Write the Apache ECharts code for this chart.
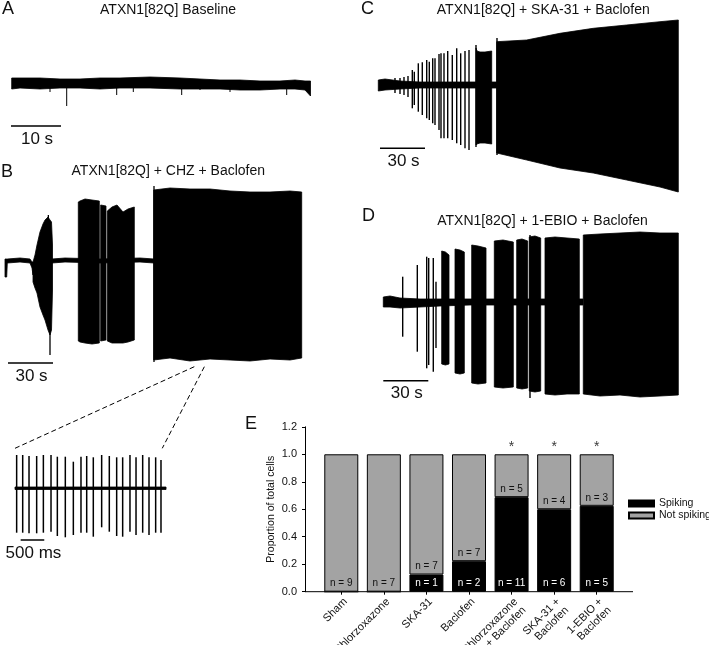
<!DOCTYPE html>
<html><head><meta charset="utf-8">
<script src="https://cdn.jsdelivr.net/npm/echarts@6/dist/echarts.min.js"></script>
<style>html,body{margin:0;padding:0;background:#fff}#c{width:709px;height:645px}</style>
</head><body><div id="c"></div>
<script>
const FONT = 'Liberation Sans, Arial, Helvetica, sans-serif';

// ---------- Trace data (t in s, amplitude in arbitrary units, 0 = baseline) ----------
// Envelopes: [t, top, bottom] points; spikes: [t, top, bottom]
const traceA_band = [[0.14,5,-6],[1.8,5,-5],[5.8,5,-6],[9.8,4,-5],[13.8,4,-5],[17.8,5,-6],[21.8,5,-5],[27.8,6,-5],[33.8,5,-6],[37.8,4,-6],[41.8,3,-6],[45.8,3,-7],[49.8,2,-7],[53.8,2,-6],[56.8,3,-6],[58.8,2,-7],[59.9,2,-13]];
const traceA_spikes = [[7.8,-1,-9],[11.14,-1,-23],[21.14,-1,-12],[24.46,-1,-9],[34.14,-1,-12],[37.8,-1,-7],[43.8,-1,-9],[55.14,-1,-12]];

const traceB_envelopes = [
  [[0,2,-16],[1.13,2,-16],[1.53,2,-2],[10,3,-1],[16.67,2,-2],[18,-1,-7],[18.67,-1,-14]],
  [[18.67,-1,-21],[20,6,-27],[21.33,16,-32],[23.33,29,-46],[25.33,37,-54],[26.67,41,-59],[28.67,44,-69],[30,41,-74],[31,39,-69],[31.67,16,-29]],
  [[31.33,2,-2],[40,3,-1],[63.33,2,-2],[90,3,-1],[99.33,2,-2]],
  [[48.87,59,-80],[50,60,-81],[53.33,62,-82],[58,61,-83],[62.87,60,-82]],
  [[63.8,56,-80],[67.33,55,-79]],
  [[68.2,50,-80],[71.33,54,-82],[74.67,56,-82],[78.67,49,-82],[82,52,-81],[86.2,54,-79]],
  [[99.13,71,-99],[110,73,-97],[123.33,72,-100],[136.67,72,-98],[150,70,-99],[163.33,69,-100],[176.67,69,-98],[190,70,-99],[197.8,69,-97]]
];
const traceB_spikes = [[28.9,46,-60],[30,39,-94],[99.33,75,-101]];

const traceInset_envelopes = [[[0,1,-1.5],[3.2,1,-1.5]]];
const traceInset_spikes = [[0.035,33,-44.7],[0.163,33,-44.7],[0.297,32,-45.3],[0.459,32,-45.3],[0.601,33,-44.7],[0.763,33,-43.7],[0.897,31.3,-48],[1.066,31.3,-49.3],[1.236,26.3,-47],[1.398,31.3,-44.7],[1.519,32,-44.7],[1.659,30.7,-48.7],[1.836,33,-39.3],[1.998,32,-43.7],[2.154,30.7,-48],[2.281,30.7,-48.7],[2.436,33,-43.7],[2.564,30.7,-47],[2.705,33,-44.7],[2.839,30.7,-47],[2.980,30.7,-44.7],[3.093,28,-44.7]];

const traceC_envelopes = [
  [[0.2,5,-6],[4.67,6,-5],[14.67,4,-4],[28,3,-3],[48,3,-3],[65.33,3,-3],[79.33,3,-3]],
  [[65.33,37,-60],[66,34,-59],[68,33,-58],[71.33,33,-58],[75.8,34,-59]],
  [[79.13,43.3,-68],[99.13,45,-75],[121.33,51.7,-83],[143.53,56.7,-88],[165.8,60,-95],[188,63.3,-102],[200.2,65,-107]]
];
const traceC_spikes = [[11.33,7,-8],[14.67,7,-9],[17.33,8,-10],[20,9,-12],[22.87,15,-23.3],[24.2,13.3,-20],[26.87,21.7,-26.7],[29.53,22.7,-30],[32.47,25,-33.3],[34.2,23.3,-35],[36.47,26.7,-38.3],[38,26.7,-40],[40.67,31,-45],[42,31.7,-53.3],[44,31.7,-53.3],[46.47,34,-53.3],[49.53,30,-55],[52.47,36.7,-58.3],[55.13,31.7,-60],[58,34,-63.3],[60.67,35,-65],[65.33,40,-62],[79.33,47,-70]];

const traceD_envelopes = [
  [[0.2,5,-5],[4.67,6,-5],[11.33,4,-6],[24.67,3,-5],[38,3,-4],[58,3,-3],[78,3,-3],[104.67,3,-3],[133.33,3,-3]],
  [[39.13,51,-62],[41.6,50,-63],[44,47,-62]],
  [[48,53,-71],[51.33,52,-72],[54.2,50,-71]],
  [[59.13,57,-81],[63.33,56,-82],[68.67,54,-81]],
  [[74.2,61,-85],[80,62,-86],[86.87,60,-85]],
  [[89.13,62,-86],[92.67,63,-87],[96.47,61,-86]],
  [[97.53,65,-89],[101.33,66,-90],[105.13,64,-89]],
  [[108,64,-92],[114.67,65,-93],[122.67,64,-92],[130.87,63,-92]],
  [[133.53,67,-92],[144.67,68,-94],[158,69,-93],[171.33,70,-95],[184.67,69,-94],[196.87,69,-93]]
];
const traceD_spikes = [[13.13,25.3,-34.7],[22.87,37,-49.7],[29.13,45.3,-66.3],[30.47,44,-63],[33.53,44,-69.7],[35.33,20.3,-46],[98,67,-96]];

// Scale bars [t0, t1, level, label]
const scaleA = [0, 10, -43, '10 s'];
const scaleB = [2, 32, -102, '30 s'];
const scaleInset = [0.12, 0.62, -52, '500 ms'];
const scaleC = [1.33, 31.33, -63.3, '30 s'];
const scaleD = [0.2, 30.2, -78.7, '30 s'];
// Zoomed window of trace B shown in inset: [tStart, tEnd, level] and inset [tStart, tEnd, level]
const zoomFromB = [126.2, 132.9, -105.7];
const zoomToInset = [0, 3.12, 39.7];

// ---------- Bar chart data (panel E) ----------
const categories = ['Sham','Chlorzoxazone','SKA-31','Baclofen','Chlorzoxazone\n+ Baclofen','SKA-31 +\nBaclofen','1-EBIO +\nBaclofen'];
const propSpiking = [0, 0, 0.125, 0.222, 0.688, 0.6, 0.625];
const propNotSpiking = [1, 1, 0.875, 0.778, 0.312, 0.4, 0.375];
const nSpiking = [0, 0, 1, 2, 11, 6, 5];
const nNotSpiking = [9, 7, 7, 7, 5, 4, 3];
const significant = [false, false, false, false, true, true, true];
const yTicks = [0, 1.2, 0.2];

// ---------- Layout ----------
const panels = [
  {L:11, T:70, W:300, H:70, xmax:60, amax:13, amin:-57},
  {L:5, T:180, W:300, H:200, xmax:200, amax:81, amin:-119},
  {L:15, T:440, W:152, H:110, xmax:152/47.2, amax:48, amin:-62},
  {L:378, T:10, W:300, H:190, xmax:200, amax:75, amin:-115},
  {L:383, T:215, W:297, H:190, xmax:198, amax:87, amin:-103}
];

function envelopeSeries(idx, envs) {
  return {
    type:'custom', xAxisIndex:idx, yAxisIndex:idx, silent:true, clip:false,
    data: envs.map(e => [e[0][0], e[e.length-1][0], Math.max(...e.map(p=>p[1])), Math.min(...e.map(p=>p[2]))]),
    encode:{x:[0,1], y:[2,3]},
    renderItem:(params, api) => {
      const env = envs[params.dataIndex];
      const pts = env.map(p => api.coord([p[0], p[1]]))
        .concat(env.slice().reverse().map(p => api.coord([p[0], p[2]])));
      return {type:'polygon', shape:{points:pts}, style:{fill:'#000', stroke:'#000', lineWidth:0.8, lineJoin:'round'}};
    }
  };
}
function spikeSeries(idx, spikes, w) {
  return {
    type:'custom', xAxisIndex:idx, yAxisIndex:idx, silent:true, clip:false,
    data: spikes, encode:{x:0, y:[1,2]},
    renderItem:(params, api) => {
      const a = api.coord([api.value(0), api.value(1)]);
      const b = api.coord([api.value(0), api.value(2)]);
      return {type:'line', shape:{x1:a[0], y1:a[1], x2:b[0], y2:b[1]}, style:{stroke:'#000', lineWidth:w}};
    }
  };
}
function scaleSeries(idx, s) {
  return {type:'line', xAxisIndex:idx, yAxisIndex:idx, silent:true, clip:false, symbol:'none',
    data:[[s[0], s[2]], [s[1], s[2]]], lineStyle:{color:'#000', width:1.5}};
}

const grids = panels.map(p => ({left:p.L, top:p.T, width:p.W, height:p.H, outerBoundsMode:'none'}));
grids.push({left:320, right:91, top:426.8, bottom:53.3, outerBoundsMode:'none'});
const xAxes = panels.map((p,i) => ({type:'value', gridIndex:i, min:0, max:p.xmax, show:false}));
const yAxes = panels.map((p,i) => ({type:'value', gridIndex:i, min:p.amin, max:p.amax, show:false}));

xAxes.push({type:'category', gridIndex:5, data:categories,
  axisLine:{show:false},
  axisTick:{show:true, alignWithLabel:true, length:3, lineStyle:{color:'#000'}},
  axisLabel:{interval:0, rotate:45, fontSize:11, color:'#111', fontFamily:FONT, margin:4, verticalAlign:'top', lineHeight:12}});
yAxes.push({type:'value', gridIndex:5, min:yTicks[0], max:yTicks[1], interval:yTicks[2], offset:15,
  axisLine:{show:true, lineStyle:{color:'#000', width:1}},
  axisTick:{show:true, length:3, lineStyle:{color:'#000'}},
  splitLine:{show:false},
  axisLabel:{formatter:v => v.toFixed(1), fontSize:11, color:'#111', fontFamily:FONT},
  name:'Proportion of total cells', nameLocation:'middle', nameGap:28,
  nameTextStyle:{fontSize:10.5, color:'#111', fontFamily:FONT}});

const series = [
  envelopeSeries(0, [traceA_band]), spikeSeries(0, traceA_spikes, 1), scaleSeries(0, scaleA),
  envelopeSeries(1, traceB_envelopes), spikeSeries(1, traceB_spikes, 1.3), scaleSeries(1, scaleB),
  envelopeSeries(2, traceInset_envelopes), spikeSeries(2, traceInset_spikes, 1.5), scaleSeries(2, scaleInset),
  envelopeSeries(3, traceC_envelopes), spikeSeries(3, traceC_spikes, 1.4), scaleSeries(3, scaleC),
  envelopeSeries(4, traceD_envelopes), spikeSeries(4, traceD_spikes, 1.4), scaleSeries(4, scaleD),
  {type:'bar', name:'Spiking', xAxisIndex:5, yAxisIndex:5, stack:'s', data:propSpiking, barWidth:34,
   itemStyle:{color:'#000', borderColor:'#000', borderWidth:1},
   label:{show:true, position:'insideBottom', distance:3, color:'#fff', fontSize:10, fontFamily:FONT,
     formatter:p => nSpiking[p.dataIndex] > 0 ? 'n = ' + nSpiking[p.dataIndex] : ''}},
  {type:'bar', name:'Not spiking', xAxisIndex:5, yAxisIndex:5, stack:'s', data:propNotSpiking, barWidth:34,
   itemStyle:{color:'#a3a3a3', borderColor:'#000', borderWidth:1},
   label:{show:true, position:'insideBottom', distance:3, color:'#111', fontSize:10, fontFamily:FONT,
     formatter:p => 'n = ' + nNotSpiking[p.dataIndex]}},
  {type:'scatter', xAxisIndex:5, yAxisIndex:5, silent:true, symbolSize:0,
   data: significant.map((s,i) => s ? propSpiking[i] + propNotSpiking[i] : '-'),
   label:{show:true, position:'top', distance:0, formatter:'*', fontSize:14, color:'#000', fontFamily:FONT}}
];

const chart = echarts.init(document.getElementById('c'), null, {renderer:'canvas'});
chart.setOption({
  animation:false, backgroundColor:'#fff',
  grid:grids, xAxis:xAxes, yAxis:yAxes, series:series,
  legend:{data:['Spiking','Not spiking'], orient:'vertical', left:628, top:498, padding:0,
    itemWidth:25, itemHeight:6, itemGap:1, icon:'rect', selectedMode:false,
    textStyle:{fontSize:10.5, fontFamily:FONT, color:'#111', lineHeight:11, overflow:'none'}}
});

// Annotations placed through the axes' own scales
const px = (g, v) => chart.convertToPixel({gridIndex:g}, v);
const txt = (t, x, y, size, align) => ({type:'text', silent:true,
  style:{text:t, x:x, y:y, fontSize:size, fontFamily:FONT, fill:'#111', align:align||'left', verticalAlign:'middle'}});
const els = [
  txt('A', 2, 9, 18), txt('B', 1, 172, 18), txt('C', 361, 9.5, 18), txt('D', 362, 216.5, 18), txt('E', 245, 424, 18),
  txt('ATXN1[82Q] Baseline', 168, 10.5, 14, 'center'),
  txt('ATXN1[82Q] + CHZ + Baclofen', 168.3, 171.5, 14, 'center'),
  txt('ATXN1[82Q] + SKA-31 + Baclofen', 543.3, 10.5, 14, 'center'),
  txt('ATXN1[82Q] + 1-EBIO + Baclofen', 542.5, 221.5, 14, 'center')
];
[[0,scaleA],[1,scaleB],[2,scaleInset],[3,scaleC],[4,scaleD]].forEach(([g,s]) => {
  const p = px(g, [(s[0]+s[1])/2, s[2]]);
  els.push(txt(s[3], p[0]+1, p[1]+13, 17, 'center'));
});
const z0 = px(1, [zoomFromB[0], zoomFromB[2]]), z1 = px(1, [zoomFromB[1], zoomFromB[2]]);
const i0 = px(2, [zoomToInset[0], zoomToInset[2]]), i1 = px(2, [zoomToInset[1], zoomToInset[2]]);
[[z0,i0],[z1,i1]].forEach(([a,b]) => els.push({type:'line', silent:true,
  shape:{x1:a[0], y1:a[1], x2:b[0], y2:b[1]}, style:{stroke:'#000', lineWidth:1, lineDash:[5,3]}}));
// x-axis baseline of panel E (extends past the outer bars)
const base = px(5, [0, 0]);
els.push({type:'line', silent:true, shape:{x1:305, y1:base[1], x2:633, y2:base[1]}, style:{stroke:'#000', lineWidth:1}});
chart.setOption({graphic:{elements:els}});
</script></body></html>
